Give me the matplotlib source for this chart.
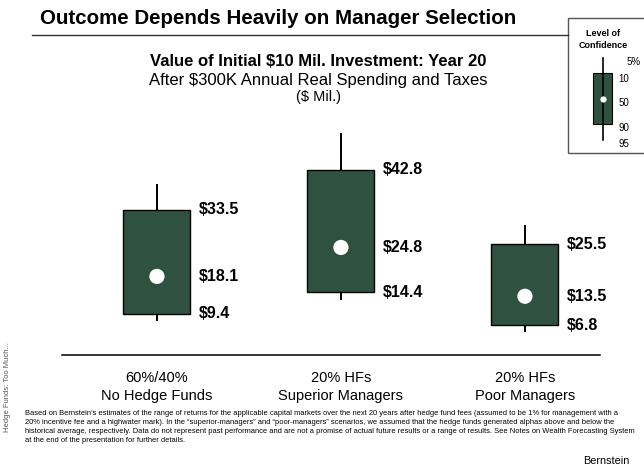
import matplotlib
matplotlib.use("Agg")
import matplotlib.pyplot as plt
from matplotlib.patches import Rectangle
from matplotlib.lines import Line2D

plt.rcParams['font.family'] = ['Liberation Sans', 'DejaVu Sans']

# ---- data ----
categories = ["60%/40%\nNo Hedge Funds", "20% HFs\nSuperior Managers", "20% HFs\nPoor Managers"]
p05 = [7.8, 12.6, 5.3]
p10 = [9.4, 14.4, 6.8]
p50 = [18.1, 24.8, 13.5]
p90 = [33.5, 42.8, 25.5]
p95 = [39.5, 51.3, 30.0]
legend_levels = ["5%", "10", "50", "90", "95"]

title = "Outcome Depends Heavily on Manager Selection"
sub1 = "Value of Initial $10 Mil. Investment: Year 20"
sub2 = "After $300K Annual Real Spending and Taxes"
sub3 = "($ Mil.)"
footnote = ("Based on Bernstein\u2019s estimates of the range of returns for the applicable capital markets over the next 20 years after hedge fund fees (assumed to be 1% for management with a\n"
            "20% incentive fee and a highwater mark). In the \u201csuperior-managers\u201d and \u201cpoor-managers\u201d scenarios, we assumed that the hedge funds generated alphas above and below the\n"
            "historical average, respectively. Data do not represent past performance and are not a promise of actual future results or a range of results. See Notes on Wealth Forecasting System\n"
            "at the end of the presentation for further details.")

GREEN = "#2F5240"
W, H = 644, 470
fig = plt.figure(figsize=(W / 100, H / 100), dpi=100)

def fx(px):
    return px / W

def fy(py):
    return 1 - py / H

# main axes
ax = fig.add_axes([fx(62), fy(354.6), fx(600) - fx(62), fy(120) - fy(354.6)])
ax.set_xlim(-0.516, 2.408)
ax.set_ylim(0, 54.3)
bw = 0.364
for i in range(len(categories)):
    ax.vlines(i, p05[i], p10[i], color="black", lw=1.4, zorder=1)
    ax.vlines(i, p90[i], p95[i], color="black", lw=1.4, zorder=1)
    ax.add_patch(Rectangle((i - bw / 2, p10[i]), bw, p90[i] - p10[i],
                           facecolor=GREEN, edgecolor="black", lw=1.0, zorder=2))
    ax.scatter([i], [p50[i]], s=120, color="white", zorder=3, edgecolors="none")
    tx = i + bw / 2 + 0.045
    for v in (p90[i], p50[i], p10[i]):
        ax.text(tx, v, f"${v:.1f}", fontsize=11.5, fontweight="bold",
                va="center", ha="left")

for s in ("top", "right", "left"):
    ax.spines[s].set_visible(False)
ax.spines["bottom"].set_linewidth(1.1)
ax.set_yticks([])
ax.set_xticks(range(len(categories)))
ax.set_xticklabels(categories, fontsize=10.5, linespacing=1.3)
ax.tick_params(axis="x", length=0, pad=12)
ax.patch.set_alpha(0)

# titles
fig.text(fx(40), fy(18), title, fontsize=14.8, fontweight="bold", ha="left", va="center")
fig.add_artist(Line2D([fx(32), fx(567.5)], [fy(35), fy(35)], color="#333333", lw=1.0))
fig.text(fx(318), fy(62), sub1, fontsize=12, fontweight="bold", ha="center", va="center")
fig.text(fx(318), fy(80), sub2, fontsize=12, ha="center", va="center")
fig.text(fx(318), fy(97), sub3, fontsize=10.5, ha="center", va="center")

# legend box
fig.add_artist(Rectangle((fx(567.5), fy(153)), fx(700) - fx(567.5), fy(18) - fy(153),
                         transform=fig.transFigure, facecolor="white",
                         edgecolor="#555555", lw=1.0))
fig.text(fx(603), fy(33), "Level of", fontsize=6.5, fontweight="bold", ha="center", va="center")
fig.text(fx(603), fy(45), "Confidence", fontsize=6.5, fontweight="bold", ha="center", va="center")
fig.add_artist(Line2D([fx(603.3), fx(603.3)], [fy(57.7), fy(140)], color="black", lw=1.2))
fig.add_artist(Rectangle((fx(593.3), fy(124.3)), fx(611.7) - fx(593.3), fy(72.7) - fy(124.3),
                         transform=fig.transFigure, facecolor=GREEN, edgecolor="black", lw=0.8))
fig.add_artist(Line2D([fx(603.3)], [fy(99)], marker="o", markersize=4.5,
                      markerfacecolor="white", markeredgecolor="none", linestyle="none"))
leg_x = [626.7, 618.3, 618.3, 618.3, 618.3]
leg_y = [61.7, 79.3, 102.7, 127.7, 144.3]
for lab, lx, ly in zip(legend_levels, leg_x, leg_y):
    fig.text(fx(lx), fy(ly), lab, fontsize=7, ha="left", va="center")

# footnote
fig.text(fx(25), fy(410), footnote, fontsize=5.4, ha="left", va="top", linespacing=1.42)
fig.text(fx(8), fy(432), "Hedge Funds: Too Much...", fontsize=5.5, rotation=90,
         ha="center", va="bottom", color="#555555")
fig.text(fx(606), fy(461), "Bernstein", fontsize=7.8, ha="center", va="center")

fig.savefig("out.png", dpi=100)
